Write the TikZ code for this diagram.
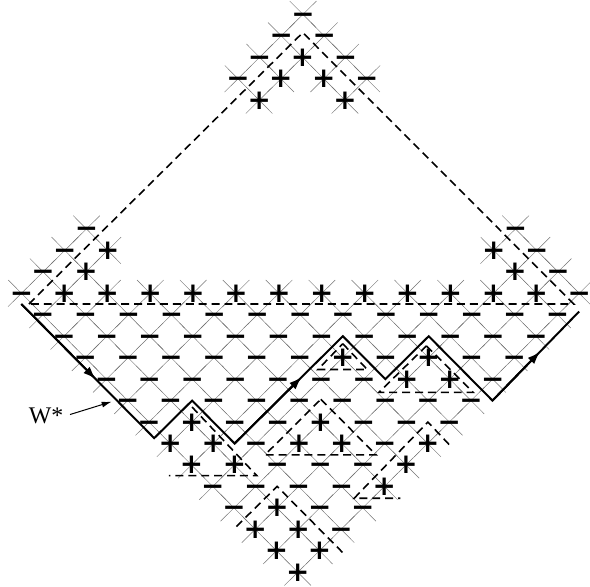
\documentclass[tikz,border=0pt]{standalone}
\usepackage{fontspec}
\setmainfont{Liberation Serif}
\newfontfamily\signfont{DejaVu Sans}
\usetikzlibrary{arrows.meta,calc}

% sign positions as row/{columns}, u runs across, v runs down
\newcommand{\minusrows}{0/{0},1/{-1,1},2/{-2,2},3/{-3,3},10/{-10,10},11/{-11,11},12/{-12,12},13/{-13,13},
  14/{-12,-10,...,12},15/{-11,-9,...,11},16/{-10,-8,-6,-4,-2,0,4,8,10},17/{-9,-7,-5,-3,-1,1,3,9},
  18/{-8,-6,...,8},19/{-7,-3,-1,3,5,7},20/{-2,4},21/{-1,1,3},22/{-4,-2,0,2},23/{-3,1,3},24/{2}}
\newcommand{\plusrows}{2/{0},3/{-1,1},4/{-2,2},11/{-9,9},12/{-10,10},13/{-11,-9,...,11},
  16/{2,6},17/{5,7},19/{-5,1},20/{-6,-4,0,2,6},21/{-5,-3,5},22/{4},23/{-1},24/{-2,0},25/{-1,1},26/{0}}

\begin{document}
\begin{tikzpicture}[x={(21.6pt,0pt)},y={(-0.2pt,-21.6pt)},
  cross/.style={black!55,line width=0.45pt},
  sgn/.style={font=\signfont\bfseries\fontsize{28}{28}\selectfont,inner sep=0pt,text height=19.1pt,text depth=0.9pt},
  bound/.style={line width=1.6pt,dash pattern=on 8pt off 5pt},
  walk/.style={line width=2pt,line join=miter},
  tip/.style={-{Latex[length=13pt,width=9pt]}},
  ptr/.style={-{Latex[length=10pt,width=6pt]},line width=1pt}]
  \useasboundingbox (-305pt,14.5pt) rectangle (289pt,-576pt);

  % grid crosses under every sign
  \foreach \v/\us in \minusrows \foreach \u in \us
    \draw[cross] (\u-.62,\v-.62) -- (\u+.62,\v+.62) (\u-.62,\v+.62) -- (\u+.62,\v-.62);
  \foreach \v/\us in \plusrows \foreach \u in \us
    \draw[cross] (\u-.62,\v-.62) -- (\u+.62,\v+.62) (\u-.62,\v+.62) -- (\u+.62,\v-.62);

  % dashed boundaries
  \draw[bound] (-12.65,13.5) -- (0,0.85) -- (12.75,13.5) -- cycle;
  \draw[bound] (2,15.35) -- (3.15,16.55) -- (0.85,16.55) -- cycle;
  \draw[bound] (5.9,15.45) -- (8.1,17.62) -- (3.7,17.62) -- cycle;
  \draw[bound] (1,17.94) -- (3.6,20.53) -- (-1.58,20.53) -- cycle;
  \draw[bound] (7,20.05) -- (6,19) -- (2.6,22.55) -- (4.75,22.55);
  \draw[bound] (-5,18.3) -- (-1.95,21.5) -- (-6.05,21.5);
  \draw[bound] (-2.88,23.87) -- (-1,22) -- (2.1,25.1);

  % signs
  \foreach \v/\us in \minusrows \foreach \u in \us
    \node[sgn] (s\u-\v) at (\u,\v) {−};
  \foreach \v/\us in \plusrows \foreach \u in \us
    \node[sgn] (s\u-\v) at (\u,\v) {+};

  % the walk W*
  \coordinate (w0) at (-13,13.5);
  \coordinate (w1) at (-6.75,19.75);
  \coordinate (w2) at (-5,18);
  \coordinate (w3) at (-3,20);
  \coordinate (w4) at (2,15);
  \coordinate (w5) at (4,17);
  \coordinate (w6) at (6,15);
  \coordinate (w7) at (9,18);
  \coordinate (w8) at (13,13.85);
  \draw[walk] (w0) -- (w1) -- (w2) -- (w3) -- (w4) -- (w5) -- (w6) -- (w7) -- (w8);
  \draw[walk,tip] (w0) -- ($(w0)!.56!(w1)$);
  \draw[walk,tip] (w3) -- ($(w3)!.62!(w4)$);
  \draw[walk,tip] (w7) -- ($(w7)!.55!(w8)$);

  \node[font=\fontsize{24}{24}\selectfont] (wlab) at (-11.8,18.7) {W*};
  \coordinate (wtip) at (-8.75,18.05);
  \draw[ptr] (wlab.east) ++(0.15,-0.05) -- (wtip);
\end{tikzpicture}
\end{document}
